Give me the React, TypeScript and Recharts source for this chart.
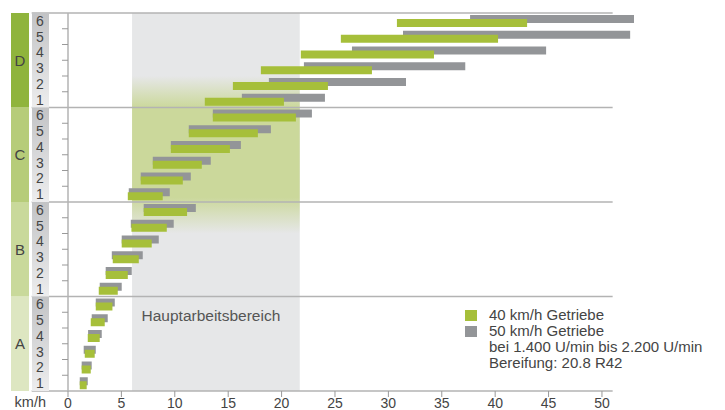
import React from 'react';
import { BarChart, Bar, XAxis, YAxis, ReferenceArea, ReferenceLine, Legend } from 'recharts';

// gears bottom (A1) to top (D6)
const gears = [
  'A1', 'A2', 'A3', 'A4', 'A5', 'A6',
  'B1', 'B2', 'B3', 'B4', 'B5', 'B6',
  'C1', 'C2', 'C3', 'C4', 'C5', 'C6',
  'D1', 'D2', 'D3', 'D4', 'D5', 'D6',
];

// speed range [from, to] in km/h, 1.400 - 2.200 U/min
const getriebe40 = [
  [1.1, 1.75], [1.28, 2.13], [1.57, 2.5], [1.85, 2.97], [2.13, 3.44], [2.6, 4.16],
  [2.88, 4.66], [3.53, 5.6], [4.19, 6.63], [5.03, 7.84], [5.94, 9.25], [7.09, 11.15],
  [5.6, 8.87], [6.81, 10.75], [7.94, 12.53], [9.63, 15.16], [11.31, 17.78], [13.56, 21.34],
  [12.81, 20.22], [15.44, 24.34], [18.06, 28.46], [21.8, 34.27], [25.55, 40.27], [30.8, 42.99],
];

const getriebe50 = [
  [1.1, 1.85], [1.28, 2.22], [1.47, 2.6], [1.88, 3.16], [2.22, 3.72], [2.6, 4.38],
  [2.97, 5.03], [3.53, 5.97], [4.1, 7.0], [5.03, 8.5], [5.88, 9.9], [7.09, 11.97],
  [5.69, 9.53], [6.81, 11.5], [7.94, 13.37], [9.63, 16.19], [11.31, 19.0], [13.56, 22.84],
  [16.28, 24.06], [18.81, 31.65], [22.09, 37.2], [26.59, 44.77], [31.37, 52.64], [37.65, 53.0],
];

const speedTicks = [0, 5, 10, 15, 20, 25, 30, 35, 40, 45, 50];
const sectionTops = ['A6', 'B6', 'C6', 'D6'];
const groupColors: Record<string, string> = {
  A: '#dde6c1',
  B: '#c9d99b',
  C: '#b6cc79',
  D: '#8fb43c',
};
const notes = ['bei 1.400 U/min bis 2.200 U/min', 'Bereifung: 20.8 R42'];

const data = gears.map((gear, i) => ({ gear, g40: getriebe40[i], g50: getriebe50[i] }));

const WIDTH = 725;
const HEIGHT = 410;
const TOP = 13;
const XAXIS_H = 19;
const ROW = (HEIGHT - TOP - XAXIS_H) / gears.length;

const GREEN = '#a6bf3a';
const GRAY = '#939598';
const LINE = '#b3b3b3';
const TEXT = '#444';

const GearTick = ({ y, payload }: any) => {
  const id: string = payload.value;
  const group = id[0];
  const gear = Number(id.slice(1));
  const bottom = y + ROW / 2;
  return (
    <g>
      {gear === 1 && (
        <>
          <rect x={11} y={bottom - ROW * 6} width={18} height={ROW * 6} fill={groupColors[group]} />
          <rect x={32} y={bottom - ROW * 6} width={17} height={ROW * 6} fill="url(#gearCol)" />
          <text x={20} y={bottom - ROW * 3} dy="0.36em" textAnchor="middle" fontSize={15} fill={TEXT}>
            {group}
          </text>
        </>
      )}
      {gear > 1 && <line x1={62} x2={68} y1={bottom} y2={bottom} stroke="#999" />}
      <text x={40} y={y} dy="0.36em" textAnchor="middle" fontSize={14} fill={TEXT}>
        {gear}
      </text>
    </g>
  );
};

const renderLegend = ({ payload }: any) => {
  const items = [...(payload || [])].sort((a, b) => String(a.value).localeCompare(String(b.value)));
  return (
    <div style={{ fontSize: 15, lineHeight: '16px', color: TEXT }}>
      {items.map((e: any) => (
        <div key={e.value} style={{ display: 'flex', alignItems: 'center' }}>
          <span style={{ display: 'inline-block', width: 12, height: 11, background: e.color, marginRight: 12 }} />
          {e.value}
        </div>
      ))}
      {notes.map((n) => (
        <div key={n} style={{ paddingLeft: 24 }}>{n}</div>
      ))}
    </div>
  );
};

export default function App() {
  return (
    <div style={{ position: 'absolute', left: 0, top: 0, fontFamily: '"Liberation Sans", Arial, sans-serif' }}>
      <BarChart
        width={WIDTH}
        height={HEIGHT}
        data={data}
        layout="vertical"
        margin={{ top: TOP, right: 91, bottom: 0, left: 0 }}
        barSize={8}
        barGap={-4}
      >
        <defs>
          <linearGradient id="gearCol" x1="0" y1="0" x2="0" y2="1">
            <stop offset="0%" stopColor="#c2c3c5" />
            <stop offset="100%" stopColor="#ededee" />
          </linearGradient>
          <linearGradient id="mainArea" x1="0" y1="0" x2="0" y2="1">
            <stop offset="0%" stopColor="#cbd89b" stopOpacity={0} />
            <stop offset="20%" stopColor="#cbd89b" stopOpacity={1} />
            <stop offset="77%" stopColor="#cbd89b" stopOpacity={1} />
            <stop offset="100%" stopColor="#cbd89b" stopOpacity={0} />
          </linearGradient>
        </defs>
        <XAxis
          type="number"
          domain={[0, 53]}
          ticks={speedTicks}
          height={XAXIS_H}
          axisLine={false}
          tickLine={{ stroke: '#999' }}
          tick={{ fill: TEXT, fontSize: 14, dy: -1 }}
          label={{ value: 'km/h', position: 'left', offset: 22, dy: 1, fill: TEXT, fontSize: 14.5 }}
        />
        <YAxis
          type="category"
          dataKey="gear"
          reversed
          width={68}
          interval={0}
          axisLine={{ stroke: LINE, strokeWidth: 1.5 }}
          tickLine={false}
          tick={<GearTick />}
        />
        <ReferenceArea
          x1={6}
          x2={21.7}
          fill="#e6e7e8"
          fillOpacity={1}
          stroke="none"
          label={{ value: 'Hauptarbeitsbereich', position: 'insideBottom', offset: 70, dx: -5, fill: '#555', fontSize: 15.5 }}
        />
        <ReferenceArea x1={6} x2={21.7} y1="D2" y2="B5" fill="url(#mainArea)" fillOpacity={1} stroke="none" />
        {sectionTops.map((g) => (
          <ReferenceLine
            key={g}
            segment={[{ x: -3.4, y: g }, { x: 51, y: g }]}
            position="start"
            ifOverflow="visible"
            stroke={LINE}
            strokeWidth={1.5}
          />
        ))}
        <ReferenceLine
          segment={[{ x: -3.4, y: 'A1' }, { x: 51, y: 'A1' }]}
          position="end"
          ifOverflow="visible"
          stroke={LINE}
          strokeWidth={1.5}
        />
        <Bar dataKey="g50" name="50 km/h Getriebe" fill={GRAY} isAnimationActive={false} />
        <Bar dataKey="g40" name="40 km/h Getriebe" fill={GREEN} isAnimationActive={false} />
        <Legend
          layout="vertical"
          align="center"
          verticalAlign="middle"
          wrapperStyle={{ left: 465, top: 307, width: 260 }}
          content={renderLegend}
        />
      </BarChart>
    </div>
  );
}
